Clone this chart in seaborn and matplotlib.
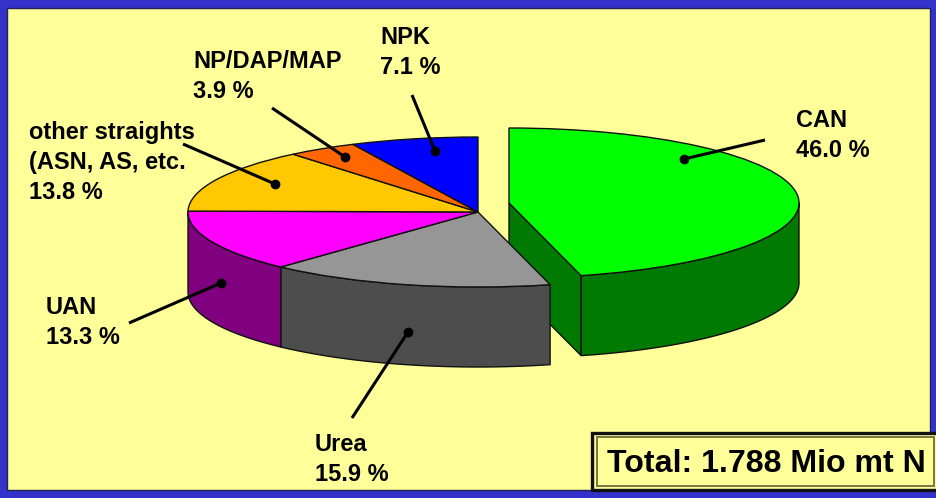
import numpy as np
import matplotlib
matplotlib.use("Agg")
import matplotlib.pyplot as plt
from matplotlib.patches import Rectangle
import seaborn as sns

# Data
categories = ["CAN", "Urea", "UAN", "other straights", "NP/DAP/MAP", "NPK"]
shares = [46.0, 15.9, 13.3, 13.8, 3.9, 7.1]
top_colors = ["#00ff00", "#969696", "#ff00ff", "#ffc800", "#ff6600", "#0000ff"]
side_colors = ["#007a00", "#4d4d4d", "#800080", "#806400", "#803300", "#000080"]
total_label = "Total: 1.788 Mio mt N"
slice_labels = ["CAN\n46.0 %", "Urea\n15.9 %", "UAN\n13.3 %",
                "other straights\n(ASN, AS, etc.\n13.8 %", "NP/DAP/MAP\n3.9 %", "NPK\n7.1 %"]

W, H = 936, 498
RX, RY, DEPTH = 290, 75, 80
MAIN_C = (478, 212)
CAN_C = (509, 203)
K = RX / RY

sns.set_style("white")
plt.rcParams["font.family"] = ["Liberation Sans", "DejaVu Sans"]
palette = sns.color_palette(top_colors)
side_palette = sns.color_palette(side_colors)

fig = plt.figure(figsize=(W / 100, H / 100), dpi=100, facecolor="#3333cc")
ax = fig.add_axes([0, 0, 1, 1])


def X(px):
    return px


def Y(py):
    return (H - py) * K


def pie_part(center, show):
    cols = [palette[i] if show(i) else (0, 0, 0, 0) for i in range(len(shares))]
    wedges, _ = ax.pie(shares, colors=cols, radius=RX, startangle=90, counterclock=False,
                       center=(X(center[0]), Y(center[1])), frame=False,
                       wedgeprops=dict(linewidth=0))
    for i, w in enumerate(wedges):
        if show(i):
            w.set_edgecolor("#111111")
            w.set_linewidth(1.0)
        else:
            w.set_visible(False)
        w.set_zorder(5)


def wall(center, i, a1, a2):
    """Front wall of slice i between clockwise-from-top angles a1..a2 in degrees."""
    a = np.radians(np.linspace(a1, a2, 80))
    xs = center[0] + RX * np.sin(a)
    ys = center[1] - RY * np.cos(a)
    px = np.r_[xs, xs[::-1]]
    py = np.r_[ys, ys[::-1] + DEPTH]
    ax.fill(X(px), Y(py), facecolor=side_palette[i], edgecolor="#111111", lw=1.0,
            joinstyle="round", zorder=3)


edges = np.r_[0, np.cumsum(shares)] * 3.6
# panel
ax.add_patch(Rectangle((6.5, Y(489.5)), 923, (489.5 - 8.5) * K, facecolor="#ffff99",
                       edgecolor="#222255", lw=1.0, zorder=0))

# front walls, only the parts facing the viewer (90..270 degrees)
wall(CAN_C, 0, 90, edges[1])
# cut face of the pulled-out slice
a = np.radians(edges[1])
ex, ey = CAN_C[0] + RX * np.sin(a), CAN_C[1] - RY * np.cos(a)
ax.fill(X(np.array([CAN_C[0], ex, ex, CAN_C[0]])),
        Y(np.array([CAN_C[1], ey, ey + DEPTH, CAN_C[1] + DEPTH])),
        facecolor=side_palette[0], edgecolor="#111111", lw=1.0, zorder=2)
for i in (1, 2):
    wall(MAIN_C, i, edges[i], min(edges[i + 1], 270))

pie_part(CAN_C, lambda i: i == 0)
pie_part(MAIN_C, lambda i: i != 0)

# leader lines: (start x, start y, dot x, dot y) in picture position
leaders = {
    0: (765, 140, 684, 159),
    1: (352, 418, 408, 332),
    2: (129, 323, 221, 283),
    3: (183, 144, 275, 184),
    4: (272, 108, 345, 157),
    5: (412, 95, 435, 151),
}
for i, (x0, y0, x1, y1) in leaders.items():
    ax.plot([X(x0), X(x1)], [Y(y0), Y(y1)], color="black", lw=2.2, zorder=7,
            solid_capstyle="butt")
    ax.plot([X(x1)], [Y(y1)], "o", color="black", ms=6.0, zorder=8)

label_pos = {0: (796, 109), 1: (315, 433), 2: (46, 296), 3: (29, 121), 4: (193, 50), 5: (380, 26)}
for i, (x, y) in label_pos.items():
    ax.text(X(x), Y(y), slice_labels[i], fontsize=17, fontweight="bold", color="black",
            ha="left", va="top", linespacing=1.4, zorder=9)

# total box, double frame
ax.add_patch(Rectangle((592, Y(489.5)), 350, (489.5 - 433) * K, facecolor="#ffff99",
                       edgecolor="#111111", lw=2.4, zorder=6))
ax.add_patch(Rectangle((596.5, Y(486)), 337.5, (486 - 437) * K, facecolor="#ffff99",
                       edgecolor="#777744", lw=1.4, zorder=6))
ax.text(X(607), Y(464), total_label, fontsize=23.1, fontweight="bold", color="black",
        ha="left", va="center", zorder=9)

ax.set_aspect("auto")
ax.set_xlim(0, W)
ax.set_ylim(0, H * K)
ax.axis("off")
fig.savefig("out.png", dpi=100, facecolor=fig.get_facecolor())
